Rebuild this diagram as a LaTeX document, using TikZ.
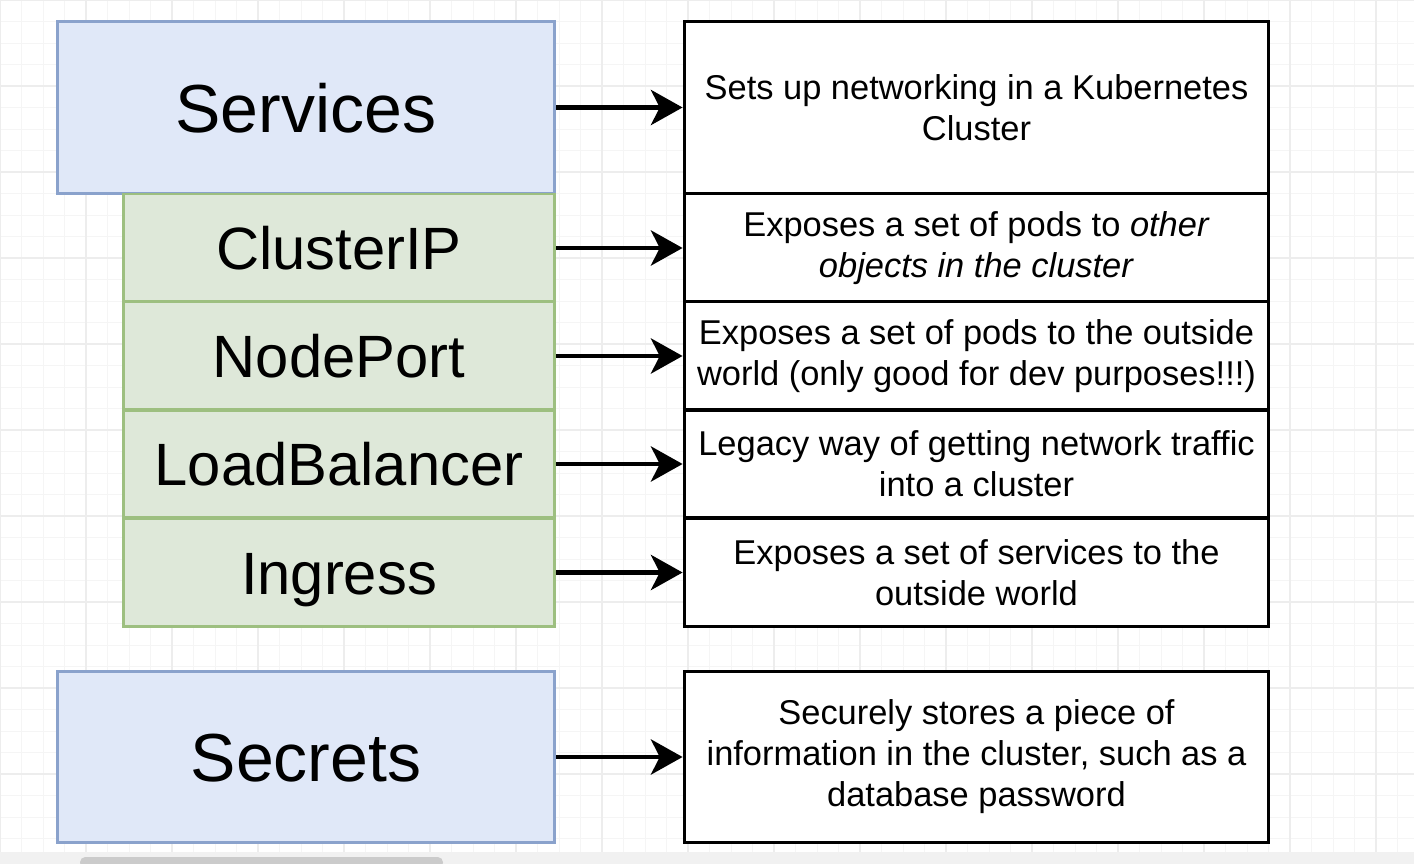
\documentclass[tikz,border=0pt]{standalone}
\usepackage{fontspec}
\setmainfont{Liberation Sans}
\usetikzlibrary{arrows.meta}
\definecolor{svcfill}{HTML}{E0E8F8}
\definecolor{svcedge}{HTML}{8AA2CC}
\definecolor{subfill}{HTML}{DEE8D9}
\definecolor{subedge}{HTML}{9DBF80}
\definecolor{gridfine}{HTML}{F5F5F5}
\definecolor{gridmajor}{HTML}{EDEDED}
\definecolor{barstrip}{HTML}{F1F1F1}
\definecolor{barthumb}{HTML}{CBCBCB}

\begin{document}
\begin{tikzpicture}[x=0.02cm,y=-0.02cm,
  kind/.style={draw=svcedge,fill=svcfill,line width=1.7pt,minimum width=9.96cm,minimum height=3.46cm,text height=27.9pt,text depth=0pt,font=\fontsize{38.7}{44}\selectfont},
  sub/.style={draw=subedge,fill=subfill,line width=1.7pt,minimum width=8.64cm,minimum height=2.16cm,text height=24.5pt,text depth=0pt,font=\fontsize{34}{40}\selectfont},
  desc/.style={draw=black,fill=white,line width=1.7pt,minimum width=11.7cm,minimum height=2.16cm,align=center,inner sep=0pt,font=\fontsize{19.6}{23.3}\selectfont},
  arr/.style={-{Stealth[length=18pt,width=20pt,inset=5pt]},line width=2.5pt}
]
\useasboundingbox (0,0) rectangle (1414,864);
\fill[white] (0,0) rectangle (1414,864);
% background grid
\foreach \gx in {0,21.5,...,1414} \draw[gridfine,line width=0.5pt] (\gx,0) -- (\gx,852);
\foreach \gy in {0,21.5,...,852} \draw[gridfine,line width=0.5pt] (0,\gy) -- (1414,\gy);
\foreach \gx in {0,86,...,1414} \draw[gridmajor,line width=0.6pt] (\gx,0) -- (\gx,852);
\foreach \gy in {0,86,...,852} \draw[gridmajor,line width=0.6pt] (0,\gy) -- (1414,\gy);
\fill[barstrip] (0,852) rectangle (1414,864);
\fill[barthumb,rounded corners=3pt] (80,857) rectangle (443,868);

% left column
\node[kind] (services) at (306,107.5) {Services};
\node[sub] (clusterip) at (339,248) {ClusterIP};
\node[sub] (nodeport) at (339,356) {NodePort};
\node[sub] (loadbal) at (339,464) {LoadBalancer};
\node[sub] (ingress) at (339,572.5) {Ingress};
\node[kind,minimum height=3.44cm] (secrets) at (306,757) {Secrets};

% right column
\node[desc,minimum height=3.46cm] (servicesdesc) at (976.5,107.5) {Sets up networking in a Kubernetes\\Cluster};
\node[desc] (clusteripdesc) at (976.5,248) {Exposes a set of pods to \textit{other}\\\textit{objects in the cluster}};
\node[desc] (nodeportdesc) at (976.5,356) {Exposes a set of pods to the outside\\world (only good for dev purposes!!!)};
\node[desc] (loadbaldesc) at (976.5,464) {Legacy way of getting network traffic\\into a cluster};
\node[desc] (ingressdesc) at (976.5,572.5) {Exposes a set of services to the\\outside world};
\node[desc,minimum height=3.44cm] (secretsdesc) at (976.5,757) {Securely stores a piece of\\information in the cluster, such as a\\database password};

\draw[arr] (services) -- (servicesdesc);
\draw[arr] (clusterip) -- (clusteripdesc);
\draw[arr] (nodeport) -- (nodeportdesc);
\draw[arr] (loadbal) -- (loadbaldesc);
\draw[arr] (ingress) -- (ingressdesc);
\draw[arr] (secrets) -- (secretsdesc);
\end{tikzpicture}
\end{document}
